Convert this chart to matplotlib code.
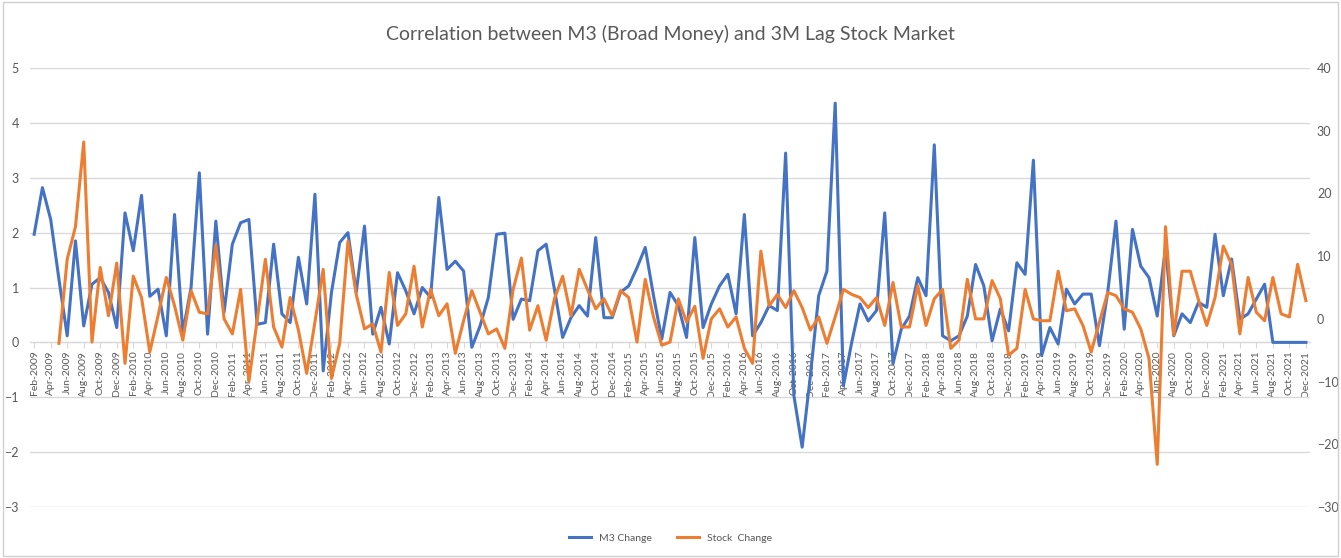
import numpy as np
import pandas as pd
import matplotlib
matplotlib.use('Agg')
import matplotlib.pyplot as plt
from matplotlib.patches import Rectangle

plt.rcParams['font.family'] = ['Lato', 'DejaVu Sans']

# monthly categories Feb-2009 .. Dec-2021
months = pd.date_range('2009-02-01', '2021-12-01', freq='MS')
month_labels = [d.strftime('%b-%Y') for d in months]

# M3 (broad money) monthly change, left axis
m3_change = [
    1.97, 2.82, 2.24, 1.15, 0.12, 1.85, 0.30, 1.06, 1.18, 0.91,
    0.27, 2.36, 1.67, 2.68, 0.84, 0.97, 0.12, 2.33, 0.18, 1.00,
    3.09, 0.15, 2.21, 0.55, 1.79, 2.18, 2.24, 0.33, 0.36, 1.79,
    0.52, 0.36, 1.55, 0.70, 2.70, -0.52, 0.91, 1.82, 2.00, 0.91,
    2.12, 0.15, 0.64, -0.03, 1.27, 0.94, 0.52, 1.00, 0.82, 2.64,
    1.33, 1.48, 1.30, -0.09, 0.30, 0.82, 1.97, 1.99, 0.42, 0.79,
    0.76, 1.67, 1.79, 0.97, 0.09, 0.45, 0.67, 0.48, 1.91, 0.45,
    0.45, 0.91, 1.03, 1.36, 1.73, 0.85, 0.06, 0.91, 0.67, 0.09,
    1.91, 0.27, 0.70, 1.03, 1.24, 0.52, 2.33, 0.12, 0.36, 0.67,
    0.58, 3.45, -0.97, -1.91, -0.60, 0.85, 1.30, 4.36, -0.79, 0.00,
    0.70, 0.39, 0.58, 2.36, -0.39, 0.24, 0.48, 1.18, 0.85, 3.60,
    0.12, 0.03, 0.12, 0.48, 1.42, 1.03, 0.03, 0.61, 0.21, 1.45,
    1.24, 3.32, -0.24, 0.27, -0.03, 0.97, 0.70, 0.88, 0.88, -0.06,
    0.91, 2.21, 0.24, 2.06, 1.39, 1.18, 0.48, 1.73, 0.12, 0.52,
    0.36, 0.73, 0.64, 1.97, 0.85, 1.52, 0.42, 0.52, 0.79, 1.06,
    0.00, 0.00, 0.00, 0.00, 0.00,
]

# stock market change (3M lag), right axis; first three months empty
stock_change = [
    np.nan, np.nan, np.nan, -3.9, 9.5, 14.7, 28.2, -3.7, 8.2, 0.5,
    8.9, -7.1, 6.8, 3.4, -5.3, 0.5, 6.6, 2.1, -3.4, 4.5,
    1.05, 0.8, 11.8, 0.0, -2.4, 4.7, -10.0, -0.3, 9.5, -1.3,
    -4.5, 3.4, -1.8, -8.7, -0.5, 7.9, -9.5, -3.9, 12.4, 3.9,
    -1.6, -0.8, -5.3, 7.4, -1.05, 0.8, 8.4, -1.3, 4.7, 0.5,
    2.4, -5.5, -0.3, 4.5, 1.05, -2.4, -1.6, -4.7, 4.7, 9.7,
    -1.8, 2.1, -3.4, 3.2, 6.8, 0.5, 7.9, 4.7, 1.6, 3.2,
    0.5, 4.5, 3.4, -3.7, 6.3, 0.3, -4.2, -3.7, 3.2, -0.5,
    2.0, -6.3, 0.0, 1.6, -1.3, 0.3, -4.7, -7.1, 10.8, 2.1,
    3.9, 1.8, 4.5, 1.8, -1.8, 0.3, -3.9, 0.3, 4.7, 3.9,
    3.4, 1.8, 3.4, -1.05, 5.8, -1.3, -1.3, 5.3, -1.05, 3.2,
    4.7, -4.7, -3.4, 6.3, 0.0, 0.0, 6.1, 3.2, -5.8, -4.7,
    4.7, 0.0, -0.3, -0.3, 7.6, 1.3, 1.6, -1.05, -5.3, -0.5,
    4.2, 3.7, 1.6, 1.05, -1.6, -6.3, -23.2, 14.7, -2.6, 7.6,
    7.6, 3.0, -1.05, 3.4, 11.6, 8.7, -2.4, 6.6, 1.05, -0.3,
    6.6, 0.8, 0.3, 8.7, 2.9,
]

BLUE = '#4472C4'
ORANGE = '#ED7D31'
GRID = '#D9D9D9'
TXT = '#595959'

x = np.arange(len(month_labels))

fig = plt.figure(figsize=(13.41, 5.58), dpi=100)
fig.patches.append(Rectangle((0.002, 0.004), 0.996, 0.992, transform=fig.transFigure,
                             fill=False, edgecolor='#D0D0D0', linewidth=1))

ax = fig.add_axes([0.0224, 0.0914, 0.9545, 0.7867])
ax2 = ax.twinx()

l1, = ax.plot(x, m3_change, color=BLUE, linewidth=2.2, label='M3 Change', zorder=3)
l2, = ax2.plot(x, stock_change, color=ORANGE, linewidth=2.2, label='Stock  Change', zorder=3)

ax.set_xlim(-0.5, len(x) - 0.5)
ax.set_ylim(-3, 5)
ax2.set_ylim(-30, 40)
ax.set_yticks(range(-3, 6))
ax2.set_yticks(range(-30, 41, 10))

ax.grid(axis='y', color=GRID, linewidth=1)
ax.set_axisbelow(True)

for a in (ax, ax2):
    for s in a.spines.values():
        s.set_visible(False)
ax.spines['bottom'].set_visible(True)
ax.spines['bottom'].set_position(('data', 0))
ax.spines['bottom'].set_color(GRID)

ax.set_xticks(x[::2])
ax.set_xticklabels(month_labels[::2], rotation=90, fontsize=7.5, color=TXT)
ax.tick_params(axis='x', length=4, color=GRID, pad=2)
ax.tick_params(axis='y', length=0, labelsize=9, labelcolor=TXT, pad=8)
ax2.tick_params(axis='y', length=0, labelsize=9, labelcolor=TXT, pad=5)

ax2.set_zorder(ax.get_zorder() + 1)
ax2.patch.set_visible(False)

fig.suptitle('Correlation between M3 (Broad Money) and 3M Lag Stock Market',
             y=0.955, fontsize=14, color=TXT)

fig.legend([l1, l2], ['M3 Change', 'Stock  Change'], loc='center',
           bbox_to_anchor=(0.5, 0.036), ncol=2, frameon=False, fontsize=7.5,
           handlelength=2.1, columnspacing=2.4, labelcolor=TXT)

fig.savefig('out.png', dpi=100, facecolor='white')
